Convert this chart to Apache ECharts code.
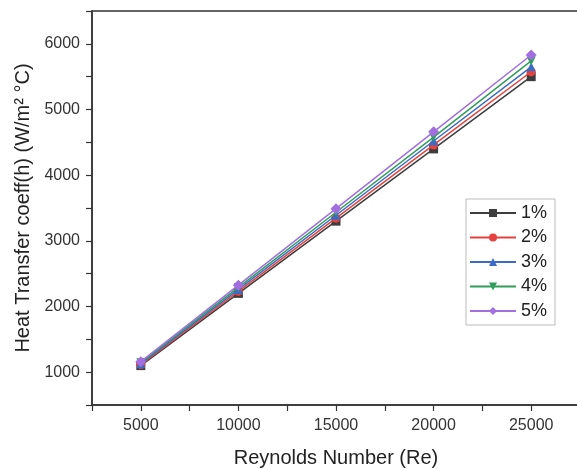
<!DOCTYPE html>
<html>
<head>
<meta charset="utf-8">
<script src="https://cdn.jsdelivr.net/npm/echarts@6/dist/echarts.min.js"></script>
<style>
  html, body { margin: 0; padding: 0; background: #fff; }
  #chart { width: 577px; height: 469px; }
</style>
</head>
<body>
<div id="chart"></div>
<script>
// Reynolds numbers on the x axis
const reynolds = [5000, 10000, 15000, 20000, 25000]

// heat transfer coefficient per concentration
const h1 = [1100, 2200, 3300, 4400, 5500]
const h2 = [1115, 2230, 3345, 4460, 5575]
const h3 = [1130, 2260, 3390, 4520, 5650]
const h4 = [1145, 2290, 3435, 4580, 5740]
const h5 = [1160, 2325, 3490, 4660, 5830]

const names = ['1%', '2%', '3%', '4%', '5%']
const colors = ['#3d3d3d', '#e5413f', '#3a6cc6', '#2f9e5a', '#a26ee0']
const symbols = ['rect', 'circle', 'triangle', 'triangle', 'diamond']
const rotations = [0, 0, 0, 180, 0]
const values = [h1, h2, h3, h4, h5]

const font = 'Liberation Sans, Arial, sans-serif'

const series = names.map((name, i) => ({
  name: name,
  type: 'line',
  data: reynolds.map((x, j) => [x, values[i][j]]),
  symbol: symbols[i],
  symbolRotate: rotations[i],
  symbolSize: i === 4 ? 11 : 9,
  lineStyle: { color: colors[i], width: 1.5 },
  itemStyle: { color: colors[i] },
  z: 2 + i
}))

const myChart = echarts.init(document.getElementById('chart'), null, { renderer: 'canvas' })

myChart.setOption({
  animation: false,
  backgroundColor: '#fff',
  grid: {
    left: 92,
    top: 11,
    width: 488,
    height: 394,
    outerBoundsMode: 'none',
    containLabel: false,
    show: true,
    borderColor: '#333',
    borderWidth: 1.5
  },
  legend: {
    orient: 'vertical',
    left: 466,
    top: 199,
    padding: [5, 8, 5, 3],
    itemWidth: 46,
    itemHeight: 10,
    itemGap: 6.5,
    borderColor: '#bbb',
    borderWidth: 1,
    textStyle: { fontFamily: font, fontSize: 18, color: '#222' },
    data: names
  },
  xAxis: {
    type: 'value',
    min: 2500,
    max: 27500,
    interval: 2500,
    name: 'Reynolds Number (Re)',
    nameLocation: 'middle',
    nameGap: 43,
    nameTextStyle: { fontFamily: font, fontSize: 20, color: '#222' },
    axisLine: { lineStyle: { color: '#333', width: 1.5 } },
    axisTick: { inside: false, length: 6, lineStyle: { color: '#333', width: 1.2 } },
    axisLabel: {
      fontFamily: font, fontSize: 16, color: '#333', margin: 13,
      formatter: v => (v % 5000 === 0 ? String(v) : '')
    },
    splitLine: { show: false }
  },
  yAxis: {
    type: 'value',
    min: 500,
    max: 6500,
    interval: 500,
    name: 'Heat Transfer coeff(h) (W/m\u00b2 \u00b0C)',
    nameLocation: 'middle',
    nameGap: 54,
    nameTextStyle: { fontFamily: font, fontSize: 20, color: '#222' },
    axisLine: { show: true, lineStyle: { color: '#333', width: 1.5 } },
    axisTick: { show: true, inside: false, length: 6, lineStyle: { color: '#333', width: 1.2 } },
    axisLabel: {
      fontFamily: font, fontSize: 16, color: '#333', margin: 12,
      formatter: v => (v % 1000 === 0 ? String(v) : '')
    },
    splitLine: { show: false }
  },
  series: series
})
</script>
</body>
</html>
